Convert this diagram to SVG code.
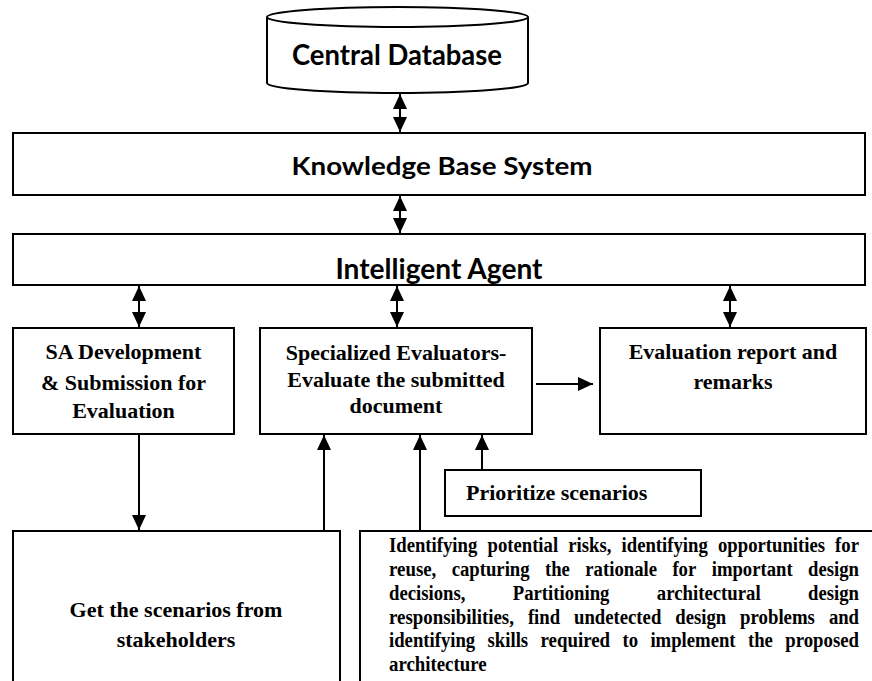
<svg xmlns="http://www.w3.org/2000/svg" width="872" height="681" viewBox="0 0 872 681">
<style>
.box{fill:#fff;stroke:#000;stroke-width:2}
.cal{font-family:Lato,"Open Sans","DejaVu Sans",sans-serif;font-weight:bold;fill:#000;text-anchor:middle}
.tnr{font-family:"Liberation Serif","Times New Roman",serif;font-weight:bold;font-size:22px;fill:#000;text-anchor:middle}
.lft{text-anchor:start}
.par text{font-family:"Liberation Serif","Times New Roman",serif;font-weight:bold;font-size:20px;fill:#000}
.con{stroke:#000;stroke-width:2;fill:none}
</style>
<defs>
<marker id="ah" markerUnits="userSpaceOnUse" markerWidth="16" markerHeight="16" viewBox="0 0 16 16" refX="15" refY="8" orient="auto-start-reverse">
<path d="M0,1 L15,8 L0,15 Z" fill="#000"/>
</marker>
</defs>
<rect width="872" height="681" fill="#fff"/>

<g id="central-database">
<path class="box" d="M267,17 L267,83 A130.5,10 0 0 0 528,83 L528,17"/>
<ellipse class="box" cx="397.5" cy="17" rx="130.5" ry="10"/>
<text class="cal" x="397" y="65" font-size="29" textLength="210" lengthAdjust="spacingAndGlyphs">Central Database</text>
</g>

<g id="knowledge-base">
<rect class="box" x="13" y="133" width="852" height="62"/>
<text class="cal" x="442" y="175" font-size="24" textLength="301" lengthAdjust="spacingAndGlyphs">Knowledge Base System</text>
</g>

<g id="intelligent-agent">
<rect class="box" x="13" y="234" width="852" height="51"/>
<text class="cal" x="439" y="279" font-size="29" textLength="207" lengthAdjust="spacingAndGlyphs">Intelligent Agent</text>
</g>

<g id="sa-development">
<rect class="box" x="13" y="328" width="221" height="106"/>
<text class="tnr" x="123.5" y="359">SA Development</text>
<text class="tnr" x="123.5" y="390">&amp; Submission for</text>
<text class="tnr" x="123.5" y="418">Evaluation</text>
</g>

<g id="specialized-evaluators">
<rect class="box" x="260" y="328" width="272" height="106"/>
<text class="tnr" x="396" y="360">Specialized Evaluators-</text>
<text class="tnr" x="396" y="387">Evaluate the submitted</text>
<text class="tnr" x="396" y="413">document</text>
</g>

<g id="evaluation-report">
<rect class="box" x="600" y="328" width="266" height="106"/>
<text class="tnr" x="733" y="359">Evaluation report and</text>
<text class="tnr" x="733" y="389">remarks</text>
</g>

<g id="prioritize-scenarios">
<rect class="box" x="445" y="470" width="256" height="46"/>
<text class="tnr lft" x="466" y="500">Prioritize scenarios</text>
</g>

<g id="get-scenarios">
<rect class="box" x="13" y="531" width="327" height="170"/>
<text class="tnr" x="176" y="617">Get the scenarios from</text>
<text class="tnr" x="176" y="647">stakeholders</text>
</g>

<g id="identifying" class="par">
<rect class="box" x="360" y="531" width="530" height="170"/>
<text x="389" y="552" textLength="88.3" lengthAdjust="spacingAndGlyphs">Identifying</text>
<text x="487.5" y="552" textLength="70.6" lengthAdjust="spacingAndGlyphs">potential</text>
<text x="568.3" y="552" textLength="43.1" lengthAdjust="spacingAndGlyphs">risks,</text>
<text x="621.6" y="552" textLength="86.2" lengthAdjust="spacingAndGlyphs">identifying</text>
<text x="718" y="552" textLength="107" lengthAdjust="spacingAndGlyphs">opportunities</text>
<text x="835.1" y="552" textLength="23.9" lengthAdjust="spacingAndGlyphs">for</text>

<text x="389" y="576" textLength="47.3" lengthAdjust="spacingAndGlyphs">reuse,</text>
<text x="451.7" y="576" textLength="77.9" lengthAdjust="spacingAndGlyphs">capturing</text>
<text x="545" y="576" textLength="24.9" lengthAdjust="spacingAndGlyphs">the</text>
<text x="585.3" y="576" textLength="71.7" lengthAdjust="spacingAndGlyphs">rationale</text>
<text x="672.4" y="576" textLength="23.9" lengthAdjust="spacingAndGlyphs">for</text>
<text x="711.7" y="576" textLength="81" lengthAdjust="spacingAndGlyphs">important</text>
<text x="808.1" y="576" textLength="50.9" lengthAdjust="spacingAndGlyphs">design</text>

<text x="389" y="600" textLength="76.4" lengthAdjust="spacingAndGlyphs">decisions,</text>
<text x="512.8" y="600" textLength="96.6" lengthAdjust="spacingAndGlyphs">Partitioning</text>
<text x="656.8" y="600" textLength="103.9" lengthAdjust="spacingAndGlyphs">architectural</text>
<text x="808.1" y="600" textLength="50.9" lengthAdjust="spacingAndGlyphs">design</text>

<text x="389" y="624" textLength="124.9" lengthAdjust="spacingAndGlyphs">responsibilities,</text>
<text x="527.9" y="624" textLength="32.2" lengthAdjust="spacingAndGlyphs">find</text>
<text x="574" y="624" textLength="87.3" lengthAdjust="spacingAndGlyphs">undetected</text>
<text x="675.3" y="624" textLength="50.9" lengthAdjust="spacingAndGlyphs">design</text>
<text x="740.1" y="624" textLength="74.8" lengthAdjust="spacingAndGlyphs">problems</text>
<text x="828.9" y="624" textLength="30.1" lengthAdjust="spacingAndGlyphs">and</text>

<text x="389" y="647" textLength="86.2" lengthAdjust="spacingAndGlyphs">identifying</text>
<text x="487.6" y="647" textLength="40.5" lengthAdjust="spacingAndGlyphs">skills</text>
<text x="540.5" y="647" textLength="69.6" lengthAdjust="spacingAndGlyphs">required</text>
<text x="622.5" y="647" textLength="15.6" lengthAdjust="spacingAndGlyphs">to</text>
<text x="650.4" y="647" textLength="85.2" lengthAdjust="spacingAndGlyphs">implement</text>
<text x="748" y="647" textLength="24.9" lengthAdjust="spacingAndGlyphs">the</text>
<text x="785.2" y="647" textLength="73.8" lengthAdjust="spacingAndGlyphs">proposed</text>

<text x="389" y="671" textLength="97.6" lengthAdjust="spacingAndGlyphs">architecture</text>
</g>

<g id="connectors">
<line class="con" x1="400" y1="94" x2="400" y2="132" marker-start="url(#ah)" marker-end="url(#ah)"/>
<line class="con" x1="400" y1="196" x2="400" y2="233" marker-start="url(#ah)" marker-end="url(#ah)"/>
<line class="con" x1="139" y1="286" x2="139" y2="327" marker-start="url(#ah)" marker-end="url(#ah)"/>
<line class="con" x1="397" y1="286" x2="397" y2="327" marker-start="url(#ah)" marker-end="url(#ah)"/>
<line class="con" x1="730" y1="286" x2="730" y2="327" marker-start="url(#ah)" marker-end="url(#ah)"/>
<line class="con" x1="536" y1="384" x2="593" y2="384" marker-end="url(#ah)"/>
<line class="con" x1="139" y1="435" x2="139" y2="530" marker-end="url(#ah)"/>
<line class="con" x1="324" y1="530" x2="324" y2="435" marker-end="url(#ah)"/>
<line class="con" x1="420" y1="530" x2="420" y2="435" marker-end="url(#ah)"/>
<line class="con" x1="482" y1="469" x2="482" y2="435" marker-end="url(#ah)"/>
</g>
</svg>
